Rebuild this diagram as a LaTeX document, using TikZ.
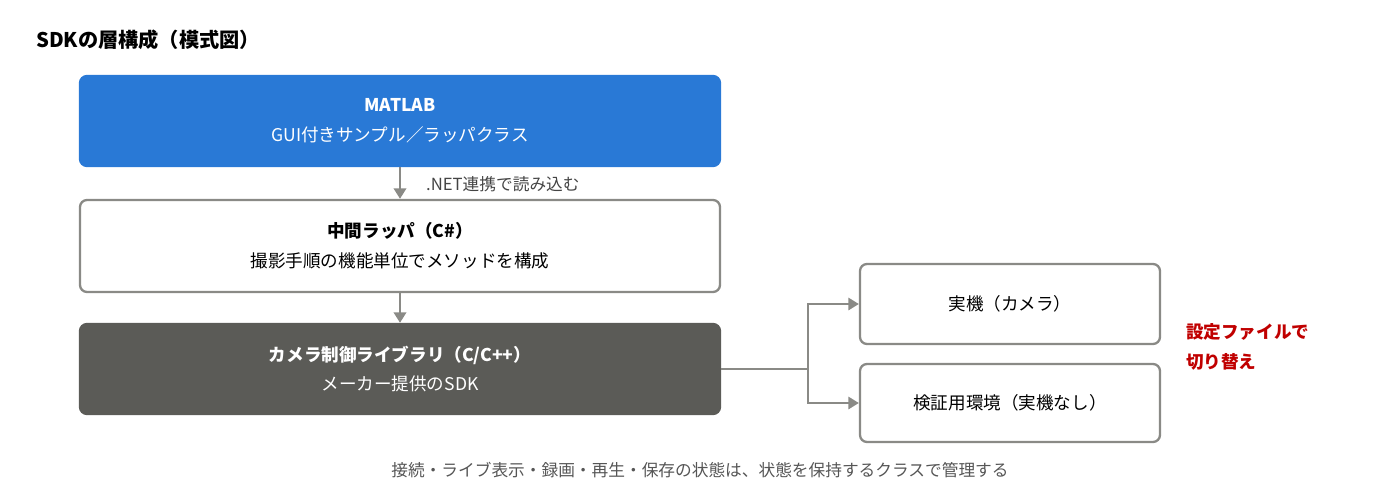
\documentclass[tikz,border=0pt]{standalone}
\usepackage{fontspec}
\setmainfont{Noto Sans CJK JP}
\usetikzlibrary{arrows.meta}
\definecolor{cblue}{HTML}{2979D6}
\definecolor{cdark}{HTML}{5B5B57}
\definecolor{cgray}{HTML}{8A8A86}
\definecolor{cred}{HTML}{C00000}
\definecolor{ctext}{HTML}{555555}
\begin{document}
\begin{tikzpicture}[x=0.02cm,y=-0.02cm,
  box/.style={rounded corners=4pt,line width=1.3pt,align=center,inner sep=0pt,font=\fontsize{10}{17}\selectfont},
  arr/.style={cgray,line width=1.6pt,-{Triangle[length=6pt,width=7pt]}},
  lbl/.style={font=\fontsize{9.5}{12}\selectfont}]
\useasboundingbox (0,0) rectangle (1400,500);
\node[anchor=west,font=\fontsize{11.5}{14}\selectfont\bfseries] (title) at (30,40) {SDKの層構成（模式図）};
\node[box,fill=cblue,draw=cblue,text=white,minimum width=640*0.02cm,minimum height=90*0.02cm] (m) at (400,121) {\textbf{MATLAB}\\GUI付きサンプル／ラッパクラス};
\node[box,fill=white,draw=cgray,minimum width=640*0.02cm,minimum height=92*0.02cm] (w) at (400,246) {\textbf{中間ラッパ（C\#）}\\撮影手順の機能単位でメソッドを構成};
\node[box,fill=cdark,draw=cdark,text=white,minimum width=640*0.02cm,minimum height=90*0.02cm] (c) at (400,369) {\textbf{カメラ制御ライブラリ（C/C++）}\\メーカー提供のSDK};
\node[box,fill=white,draw=cgray,minimum width=300*0.02cm,minimum height=80*0.02cm] (r1) at (1010,304) {実機（カメラ）};
\node[box,fill=white,draw=cgray,minimum width=300*0.02cm,minimum height=78*0.02cm] (r2) at (1010,403) {検証用環境（実機なし）};
\draw[arr] (m.south) -- (w.north);
\node[lbl,anchor=west,text=ctext!80!black] (nl) at (420,184) {.NET連携で読み込む};
\draw[arr] (w.south) -- (c.north);
\coordinate (j) at (808,369);
\draw[cgray,line width=1.3pt] (c.east) -- (j);
\draw[arr,line width=1.3pt] (j) |- (r1.west);
\draw[arr,line width=1.3pt] (j) |- (r2.west);
\node[anchor=west,align=left,text=cred,font=\fontsize{10}{17}\selectfont\bfseries] (red) at (1180,347) {設定ファイルで\\切り替え};
\node[text=ctext,font=\fontsize{9.5}{12}\selectfont] (foot) at (700,470) {接続・ライブ表示・録画・再生・保存の状態は、状態を保持するクラスで管理する};
\end{tikzpicture}
\end{document}
